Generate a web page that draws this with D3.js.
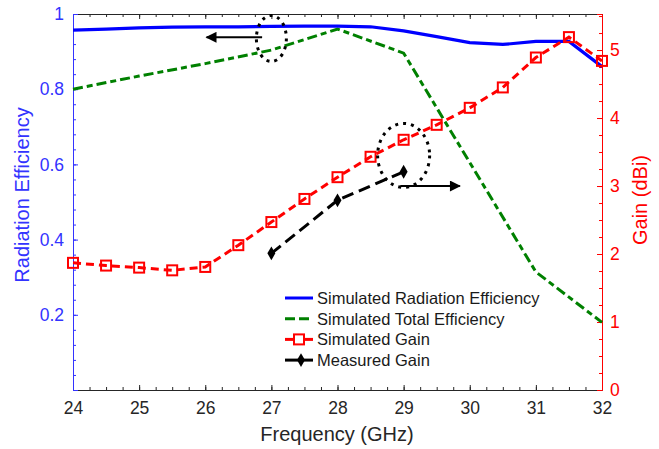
<!DOCTYPE html>
<html><head><meta charset="utf-8">
<script src="https://cdn.jsdelivr.net/npm/d3@7"></script>
<style>body{margin:0;background:#fff}svg{font-family:"Liberation Sans",Arial,sans-serif}</style>
</head><body>
<svg id="c" width="659" height="449"></svg>
<script>
const freq = [24,24.5,25,25.5,26,26.5,27,27.5,28,28.5,29,29.5,30,30.5,31,31.5,32];
const radEff = [0.957,0.960,0.963,0.965,0.966,0.966,0.967,0.968,0.968,0.966,0.955,0.94,0.924,0.919,0.927,0.927,0.86];
const simGain = [1.87,1.83,1.80,1.76,1.81,2.13,2.47,2.81,3.13,3.43,3.68,3.90,4.15,4.45,4.89,5.19,4.84];
const totFreq = [24,25,26,27,28,29,30,31,32];
const totEff = [0.80,0.835,0.868,0.904,0.96,0.896,0.605,0.314,0.18];
const measFreq = [27,28,29];
const measGain = [2.01,2.79,3.21];
const xTicks = [24,25,26,27,28,29,30,31,32];
const yLTicks = [0.2,0.4,0.6,0.8,1];
const yRTicks = [0,1,2,3,4,5];
const legendLabels = ["Simulated Radiation Efficiency","Simulated Total Efficiency","Simulated Gain","Measured Gain"];

const svg = d3.select("#c");
const L=73, R=602, T=14, B=390;
const x = d3.scaleLinear().domain([24,32]).range([L,R]);
const yL = d3.scaleLinear().domain([0,1]).range([B,T]);
const yR = d3.scaleLinear().domain([0,5.53]).range([B,T]);
const gray="#262626", blue="#0000ff", red="#ff0000", green="#008000", lblue="#3333ff";

// axes
const minorX = d3.range(24,32.001,0.25);
const bx = svg.append("g").attr("transform",`translate(0,${B})`)
  .call(d3.axisBottom(x).tickValues(xTicks).tickSize(-5).tickPadding(12).tickFormat(d3.format("d")));
bx.select(".domain").attr("stroke",gray);
bx.selectAll(".tick line").attr("stroke",gray);
bx.selectAll("text").attr("fill",gray).attr("font-size",17.5);
const bxm = svg.append("g").attr("transform",`translate(0,${B})`)
  .call(d3.axisBottom(x).tickValues(minorX).tickSize(-3).tickFormat(""));
bxm.select(".domain").remove(); bxm.selectAll("line").attr("stroke",gray);
const tx = svg.append("g").attr("transform",`translate(0,${T})`)
  .call(d3.axisTop(x).tickValues(xTicks).tickSize(-5).tickFormat(""));
tx.select(".domain").attr("stroke",gray); tx.selectAll("line").attr("stroke",gray);
const txm = svg.append("g").attr("transform",`translate(0,${T})`)
  .call(d3.axisTop(x).tickValues(minorX).tickSize(-3).tickFormat(""));
txm.select(".domain").remove(); txm.selectAll("line").attr("stroke",gray);

const ly = svg.append("g").attr("transform",`translate(${L},0)`)
  .call(d3.axisLeft(yL).tickValues(yLTicks).tickSize(-5).tickPadding(9).tickFormat(d=>d===1?"1":d3.format(".1f")(d)));
ly.select(".domain").attr("stroke",lblue);
ly.selectAll("line").attr("stroke",lblue);
ly.selectAll("text").attr("fill",lblue).attr("font-size",17.5);
const lym = svg.append("g").attr("transform",`translate(${L},0)`)
  .call(d3.axisLeft(yL).tickValues(d3.range(0,1.001,0.04)).tickSize(-3).tickFormat(""));
lym.select(".domain").remove(); lym.selectAll("line").attr("stroke",lblue);

const ry = svg.append("g").attr("transform",`translate(${R},0)`)
  .call(d3.axisRight(yR).tickValues(yRTicks).tickSize(-5).tickPadding(8).tickFormat(d3.format("d")));
ry.select(".domain").attr("stroke",red);
ry.selectAll("line").attr("stroke",red);
ry.selectAll("text").attr("fill",red).attr("font-size",17.5);
const rym = svg.append("g").attr("transform",`translate(${R},0)`)
  .call(d3.axisRight(yR).tickValues(d3.range(0,5.51,0.25)).tickSize(-3).tickFormat(""));
rym.select(".domain").remove(); rym.selectAll("line").attr("stroke",red);

// labels
svg.append("text").attr("x",337).attr("y",441).attr("text-anchor","middle")
  .attr("fill",gray).attr("font-size",20).text("Frequency (GHz)");
svg.append("text").attr("transform",`translate(29,195) rotate(-90)`).attr("text-anchor","middle")
  .attr("fill",lblue).attr("font-size",20).text("Radiation Efficiency");
svg.append("text").attr("transform",`translate(647,200) rotate(-90)`).attr("text-anchor","middle")
  .attr("fill",red).attr("font-size",20).text("Gain (dBi)");

// lines
const plot = svg.append("g");
const lineL = (xs,ys)=>d3.line().x((d,i)=>x(xs[i])).y((d,i)=>yL(ys[i]))(ys);
const lineR = (xs,ys)=>d3.line().x((d,i)=>x(xs[i])).y((d,i)=>yR(ys[i]))(ys);

plot.append("path").attr("d",lineL(totFreq,totEff)).attr("fill","none").attr("stroke",green)
  .attr("stroke-width",3).attr("stroke-dasharray","10,4,6,4");
plot.append("path").attr("d",lineL(freq,radEff)).attr("fill","none").attr("stroke",blue)
  .attr("stroke-width",3.2);
plot.append("path").attr("d",lineR(measFreq,measGain)).attr("fill","none").attr("stroke","#000")
  .attr("stroke-width",3).attr("stroke-dasharray","12,6");
plot.append("path").attr("d",lineR(freq,simGain)).attr("fill","none").attr("stroke",red)
  .attr("stroke-width",3).attr("stroke-dasharray","8,5");
plot.selectAll(".sq").data(simGain).join("rect").attr("class","sq")
  .attr("x",(d,i)=>x(freq[i])-5).attr("y",d=>yR(d)-5).attr("width",10).attr("height",10)
  .attr("fill","none").attr("stroke",red).attr("stroke-width",2);
const diamond = d3.symbol().type(d3.symbolDiamond).size(55);
plot.selectAll(".dm").data(measGain).join("path").attr("class","dm")
  .attr("transform",(d,i)=>`translate(${x(measFreq[i])},${yR(d)})`).attr("d",diamond).attr("fill","#000");

// annotations
svg.append("defs").append("marker").attr("id","ah").attr("viewBox","0 0 10 10").attr("refX",9).attr("refY",5)
  .attr("markerWidth",13).attr("markerHeight",11).attr("markerUnits","userSpaceOnUse").attr("orient","auto")
  .append("path").attr("d","M0,0L10,5L0,10z").attr("fill","#000");
svg.append("ellipse").attr("cx",x(27.0)).attr("cy",yL(0.935)).attr("rx",15).attr("ry",23)
  .attr("fill","none").attr("stroke","#000").attr("stroke-width",3).attr("stroke-dasharray","3,5");
svg.append("line").attr("x1",x(26.86)).attr("y1",yL(0.938)).attr("x2",x(26.02)).attr("y2",yL(0.938))
  .attr("stroke","#000").attr("stroke-width",2).attr("marker-end","url(#ah)");
svg.append("ellipse").attr("cx",x(29)).attr("cy",yR(3.45)).attr("rx",26).attr("ry",32)
  .attr("fill","none").attr("stroke","#000").attr("stroke-width",3).attr("stroke-dasharray","3,5");
svg.append("line").attr("x1",x(28.95)).attr("y1",yR(3.0)).attr("x2",x(29.85)).attr("y2",yR(3.0))
  .attr("stroke","#000").attr("stroke-width",2).attr("marker-end","url(#ah)");

// legend
const lg = svg.append("g").attr("transform","translate(285,298)");
const rowH = 20.7;
legendLabels.forEach((t,i)=>{
  const g = lg.append("g").attr("transform",`translate(0,${i*rowH})`);
  const col = [blue,green,red,"#000"][i];
  const ln = g.append("line").attr("x1",0).attr("x2",28).attr("stroke",col).attr("stroke-width",3);
  if(i===1) ln.attr("stroke-dasharray","10,4");
  if(i===2) g.append("rect").attr("x",9).attr("y",-5).attr("width",10).attr("height",10).attr("fill","#fff").attr("stroke",red).attr("stroke-width",2);
  if(i===3) g.append("path").attr("transform","translate(16,0)").attr("d",diamond).attr("fill","#000");
  g.append("text").attr("x",32).attr("y",6).attr("font-size",16.5).attr("fill","#1a1a1a").text(t);
});
</script>
</body></html>
